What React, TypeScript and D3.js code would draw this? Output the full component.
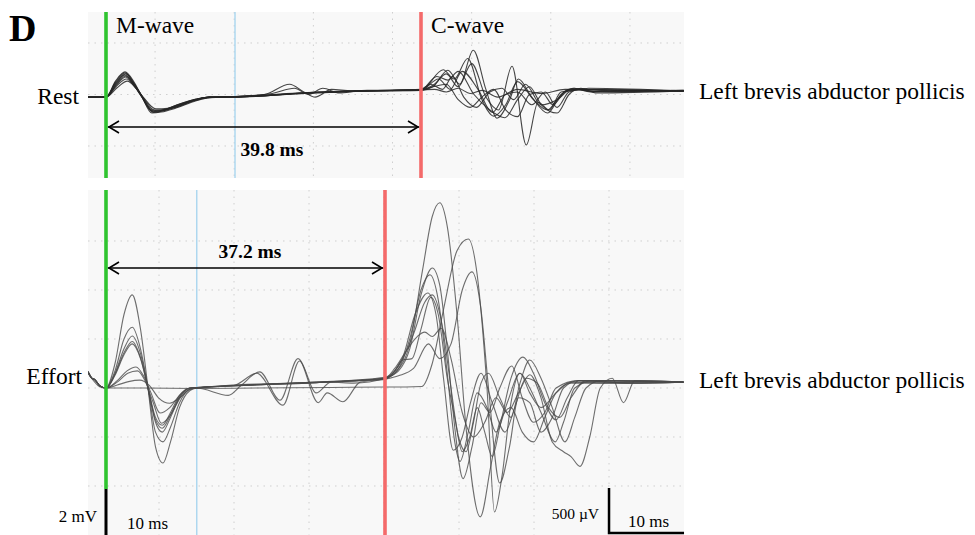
import React from "react";
import * as d3 from "d3";

type Knot = [number, number];

// ---- Data: time (ms from stimulus) and amplitude (grid divisions) ----
const restSweeps: Knot[][] = [
  [[-2.3,-0.05],[0,-0.05],[1.2,0.26],[2.4,0.44],[3.5,0.25],[4.4,0.0],[5.8,-0.32],[7,-0.31],[8.7,-0.25],[11.4,-0.1],[13.1,-0.05],[16.3,-0.04],[20,0.0],[23.2,0.2],[25,0.05],[26.4,-0.05],[28.5,0.1],[31,0.07],[36,0.08],[39.8,0.08],[41.3,0.15],[43.2,0.47],[44.7,0.2],[46.4,0.86],[48,0.1],[49.4,-0.46],[51,-0.1],[52.1,0.3],[53.8,-0.05],[55.8,-0.36],[57.5,0.0],[59.2,0.12],[61.2,0.05],[65,0.08],[73,0.07]],
  [[-2.3,-0.05],[0,-0.05],[1.2,0.24],[2.4,0.42],[3.5,0.22],[4.4,0.0],[5.8,-0.36],[7,-0.34],[8.7,-0.27],[11.4,-0.12],[13.1,-0.06],[16.3,-0.05],[22,0.01],[30,0.06],[39.8,0.09],[41.5,0.2],[43,0.4],[44.5,0.15],[46.2,0.6],[48,-0.05],[49.6,-0.3],[51.3,0.55],[53.1,-0.98],[54.6,-0.15],[56,-0.3],[57.5,0.05],[60,0.1],[64,0.07],[73,0.07]],
  [[-2.3,-0.05],[0,-0.05],[1.2,0.22],[2.5,0.4],[3.6,0.2],[4.5,-0.02],[6,-0.34],[7.2,-0.32],[8.7,-0.24],[11.4,-0.1],[13.1,-0.05],[16.3,-0.04],[21,0.02],[23.8,0.12],[25.6,0.0],[27.4,0.12],[29.5,0.03],[32,0.07],[39.8,0.08],[42.6,0.48],[44,0.3],[45.7,0.7],[47.5,-0.1],[49,-0.42],[50.5,-0.2],[52,0.25],[54,-0.1],[55.8,-0.3],[57,-0.1],[58.5,0.1],[62,0.06],[73,0.08]],
  [[-2.3,-0.05],[0,-0.05],[1.2,0.2],[2.4,0.38],[3.5,0.2],[4.4,-0.02],[5.8,-0.3],[7.2,-0.3],[8.7,-0.22],[11.4,-0.09],[13.1,-0.05],[16.3,-0.05],[25,0.03],[33,0.07],[39.8,0.09],[41.8,0.35],[43.2,0.28],[44.5,0.45],[46.5,0.0],[48.5,-0.3],[50.4,-0.45],[52,-0.1],[53.5,0.15],[55,-0.2],[57,-0.36],[58.5,0.0],[60,0.12],[62,0.03],[73,0.07]],
  [[-2.3,-0.05],[0,-0.05],[1.3,0.2],[2.5,0.36],[3.6,0.18],[4.5,-0.03],[6,-0.35],[7.5,-0.3],[9,-0.24],[11.4,-0.11],[13.1,-0.06],[16.3,-0.05],[25,0.02],[33,0.07],[39.8,0.09],[41.3,0.15],[43,0.2],[44.5,-0.1],[46,-0.25],[47.5,-0.05],[49,0.1],[50.5,-0.3],[52,-0.43],[53.5,0.0],[55,0.05],[56.5,-0.2],[58,0.05],[60,0.1],[73,0.06]],
  [[-2.3,-0.05],[0,-0.05],[1.3,0.18],[2.5,0.34],[3.6,0.16],[4.5,-0.04],[6.1,-0.33],[7.5,-0.29],[9,-0.22],[11.4,-0.1],[13.1,-0.05],[16.3,-0.04],[25,0.03],[33,0.08],[39.8,0.1],[41,0.2],[42.5,0.1],[43.8,0.35],[45.2,-0.05],[46.8,-0.25],[48.5,0.05],[50,0.12],[51.5,-0.1],[53,0.2],[55,-0.2],[57,-0.1],[59,0.12],[62,0.05],[73,0.08]],
  [[-2.3,-0.05],[0,-0.05],[1.3,0.16],[2.6,0.3],[3.7,0.14],[4.6,-0.04],[6.2,-0.31],[7.6,-0.28],[9,-0.2],[11.4,-0.09],[13.1,-0.05],[16.3,-0.05],[25,0.02],[33,0.07],[39.8,0.08],[42,0.3],[43.5,0.1],[45,0.45],[47,0.1],[48.8,-0.35],[50.5,0.0],[52,0.05],[53.8,-0.2],[55.5,0.05],[57,-0.25],[58.5,0.05],[61,0.12],[73,0.07]],
  [[-2.3,-0.05],[0,-0.05],[1.4,0.13],[2.7,0.26],[3.8,0.12],[4.7,-0.05],[6.3,-0.28],[7.8,-0.27],[9.2,-0.2],[11.4,-0.1],[13.1,-0.05],[16.3,-0.05],[25,0.03],[33,0.07],[39.8,0.09],[41.5,0.1],[43,0.05],[44.5,0.12],[46,0.02],[47.5,0.08],[49.5,-0.05],[52,0.1],[55,0.02],[58,0.1],[73,0.07]],
];

const effortSweeps: Knot[][] = [
  [[-2.4,0.33],[-1.9,0.2],[-1.5,0.17],[-0.8,0.04],[0,0],[1.2,0.5],[2.4,1.5],[3.5,1.9],[4.6,1.2],[5.6,0],[6.6,-1.2],[7.6,-1.53],[8.6,-1.1],[9.8,-0.4],[11.2,-0.05],[12.1,0],[16,0.05],[20,0.08],[25,0.1],[30,0.13],[34,0.16],[37.2,0.2],[38.8,0.35],[40.5,0.9],[42.2,2.4],[43.5,3.5],[44.5,3.78],[45.5,3.3],[46.8,1.5],[48,-0.8],[49.9,-2.63],[51.3,-1.6],[52.5,-0.7],[54,-0.4],[55.5,-0.9],[57,-1.1],[58.5,-0.6],[60,-0.1],[62,0.1],[66,0.1],[71,0.12],[77,0.12]],
  [[-2.4,0.33],[-1.9,0.2],[-1.5,0.17],[-0.8,0.04],[0,0],[1.2,0.35],[2.4,1.0],[3.5,1.24],[4.6,0.8],[5.6,0],[6.6,-0.9],[7.6,-1.1],[8.6,-0.8],[9.8,-0.3],[11.2,-0.02],[12.1,0],[16,0.04],[22,0.08],[30,0.13],[37.2,0.18],[38.5,0.35],[39.5,0.57],[40.8,0.6],[42,1.2],[43.3,1.85],[44.3,1.5],[45.5,0.2],[46.5,-0.6],[47.5,-1.3],[48.5,-1.0],[49.5,-0.4],[50.5,-0.9],[51.5,-1.4],[52.5,-0.8],[54,0.2],[55.6,0.63],[57,0.3],[58.5,-0.3],[60,-0.65],[61.5,-0.2],[63,0.15],[77,0.12]],
  [[-2.4,0.33],[-1.9,0.2],[-1.5,0.17],[-0.8,0.04],[0,0],[1.2,0.3],[2.4,0.8],[3.5,1.06],[4.6,0.7],[5.6,0],[6.6,-0.7],[7.5,-0.9],[8.6,-0.6],[9.8,-0.2],[11.2,0],[12.1,0],[16.3,-0.15],[18,0.05],[20.5,0.33],[23.2,-0.25],[25.6,0.6],[28.3,-0.3],[29.5,-0.1],[31.6,-0.28],[33.9,0.12],[37.2,0.18],[39,0.25],[41,0.4],[43,0.9],[44.5,0.6],[46,0.9],[47.5,2.0],[48.8,2.37],[50,1.6],[51,0.0],[52.5,-1.94],[53.8,-1.2],[55,-0.2],[56.5,-0.3],[58,-0.9],[59.5,-0.6],[61,0.0],[63,0.15],[70,0.1],[77,0.12]],
  [[-2.4,0.33],[-1.9,0.2],[-1.5,0.17],[-0.8,0.04],[0,0],[1.2,0.28],[2.4,0.72],[3.5,0.95],[4.6,0.62],[5.6,0],[6.6,-0.65],[7.5,-0.82],[8.6,-0.55],[9.8,-0.18],[11.2,0],[12.1,0.01],[17,0.05],[20.1,0.3],[23.6,-0.35],[25.8,0.55],[28,-0.1],[30,0.12],[33,0.1],[37.2,0.2],[39,0.35],[40.5,0.8],[42,1.9],[43.5,2.45],[44.5,2.1],[45.5,0.8],[46.5,-0.8],[47.6,-1.85],[48.8,-1.2],[50,-0.3],[51.2,-0.5],[52.5,0.0],[54.1,0.45],[55.5,-0.2],[57,-0.7],[58.5,-0.5],[60,0.0],[63,0.15],[70,0.1],[77,0.12]],
  [[-2.4,0.33],[-1.9,0.2],[-1.5,0.17],[-0.8,0.04],[0,0],[1.2,0.26],[2.4,0.68],[3.5,0.9],[4.6,0.6],[5.6,0],[6.6,-0.6],[7.5,-0.76],[8.6,-0.5],[9.8,-0.15],[11.2,0],[12.1,0.01],[20,0.07],[28,0.11],[37.2,0.2],[39,0.4],[40.5,1.0],[42,2.0],[43.2,2.31],[44.3,1.8],[45.5,0.3],[46.5,-1.1],[47.2,-1.5],[48.3,-0.9],[49.5,-0.1],[50.8,-0.4],[52,-0.9],[53.5,-0.3],[55.2,0.3],[56.5,0.0],[58,-0.5],[59.9,-1.1],[61,-0.7],[62.5,0.0],[65,0.15],[77,0.12]],
  [[-2.4,0.33],[-1.9,0.2],[-1.5,0.17],[-0.8,0.04],[0,0],[1.5,0.15],[2.8,0.35],[4,0.43],[5,0.25],[6,-0.1],[7.2,-0.51],[8.5,-0.4],[9.8,-0.15],[11.2,0],[12.1,0.01],[20,0.07],[28,0.12],[37.2,0.22],[39.5,0.6],[41.2,1.5],[42.9,1.94],[44,1.5],[45,0.2],[46.3,-1.27],[47.5,-1.0],[48.6,-0.3],[50,0.3],[51.5,-0.3],[53.2,-0.9],[54.5,-0.4],[56,0.2],[57.5,0.1],[59,-0.4],[60.5,-0.6],[62,-0.2],[64,0.15],[77,0.12]],
  [[-2.4,0.33],[-1.9,0.2],[-1.5,0.17],[-0.8,0.04],[0,0],[1.5,0.12],[2.9,0.3],[4.2,0.35],[5.2,0.15],[6.3,-0.3],[7.4,-0.72],[8.6,-0.55],[9.9,-0.2],[11.2,-0.02],[12.1,0],[20,0.06],[28,0.11],[37.2,0.2],[39,0.45],[41,1.1],[42.5,1.75],[43.5,1.9],[44.8,1.3],[46,0.0],[47,-1.0],[48,-1.3],[49,-0.7],[50,0.1],[51,0.3],[52.5,-0.2],[54,-0.6],[55.2,0.1],[56.5,0.57],[58,0.2],[59.5,-0.4],[61.2,-1.1],[62.5,-0.6],[64,0.0],[66,0.15],[77,0.12]],
  [[-2.4,0.33],[-1.9,0.2],[-1.5,0.17],[-0.8,0.04],[0,0],[1.5,0.06],[3,0.13],[4.5,0.16],[5.8,0.05],[7,-0.2],[8.5,-0.31],[9.8,-0.2],[11.2,-0.03],[12.1,0],[20,0.06],[28,0.11],[37.2,0.2],[38.5,0.4],[40,0.75],[41.5,1.05],[42.5,1.14],[43.5,1.05],[44.7,1.22],[46,0.6],[47.5,-0.5],[49,-1.0],[50.5,-0.7],[52,-0.2],[53.5,-0.5],[55,-0.1],[56.5,0.27],[58,-0.2],[59.5,-1.1],[61,-1.3],[62,-1.4],[63.2,-1.6],[64.5,-1.0],[65.9,0.0],[67.5,0.2],[69,-0.3],[70.5,0.15],[77,0.12]],
  [[-2.4,0.3],[-1.5,0.12],[-0.8,0.02],[0,0],[5,0],[12,-0.01],[20,0.0],[30,0.01],[37.2,0.02],[40,0.02],[42.1,0.03],[43.5,0.5],[45,1.6],[46.8,2.8],[48.3,3.04],[49.5,2.3],[50.8,0.0],[51.8,-2.53],[52.8,-1.8],[54,-0.3],[55.2,0.3],[56.5,-0.1],[58,-0.4],[60,-0.1],[62,0.12],[68,0.1],[77,0.12]],
];

const latencies = [39.8, 37.2]; // ms, M-wave onset to C-wave onset
const blueMarkers = [16.3, 12.1]; // ms
const restGridTimes = [6.2, 16.2, 26.2, 36.2, 46.2, 56.2, 66.2];
const effortGridTimes = [7.07, 17.07, 27.07, 37.07, 47.07, 57.07, 67.07];
const restGridLevels = [-1, 0, 1];
const effortGridLevels = [-2, -1, 0, 1, 2, 3];
const conditionLabels = ["Rest", "Effort"];
const muscleLabel = "Left brevis abductor pollicis";
const waveLabels = ["M-wave", "C-wave"];
const scaleLabels = ["2 mV", "10 ms", "500 µV", "10 ms"];
const scaleBarMs = [67.07, 77.07];

const FONT = "'Liberation Serif', 'Times New Roman', Times, serif";
const W = 975, H = 535;
const PX0 = 88, PX1 = 684;
const TOP = { y0: 12, y1: 178 };
const BOT = { y0: 190, y1: 535 };

const xRest = d3.scaleLinear().domain([0, latencies[0]]).range([106, 421]);
const xEff = d3.scaleLinear().domain([0, latencies[1]]).range([106, 385]);
const yRest = d3.scaleLinear().domain([-1, 1]).range([146, 43]);
const yEff = d3.scaleLinear().domain([-1, 1]).range([437, 339]);

const GREEN = "#2fc42f";
const RED = "#f46a6a";
const BLUE = "#a9d6ef";

function Arrow({ x1, x2, y }: { x1: number; x2: number; y: number }) {
  return (
    <g stroke="#000" strokeWidth={1.6} fill="none">
      <line x1={x1} x2={x2} y1={y} y2={y} />
      <path d={`M${x1 + 11},${y - 6} L${x1 + 1},${y} L${x1 + 11},${y + 6}`} />
      <path d={`M${x2 - 11},${y - 6} L${x2 - 1},${y} L${x2 - 11},${y + 6}`} />
    </g>
  );
}

export default function App() {
  const lineRest = d3
    .line<Knot>()
    .x((d) => xRest(d[0]))
    .y((d) => yRest(d[1]))
    .curve(d3.curveMonotoneX);
  const lineEff = d3
    .line<Knot>()
    .x((d) => xEff(d[0]))
    .y((d) => yEff(d[1]))
    .curve(d3.curveMonotoneX);

  return (
    <svg width={W} height={H} style={{ display: "block", position: "absolute", left: 0, top: 0 }} fontFamily={FONT}>
      <defs>
        <clipPath id="clipTop">
          <rect x={PX0} y={TOP.y0} width={PX1 - PX0} height={TOP.y1 - TOP.y0} />
        </clipPath>
        <clipPath id="clipBot">
          <rect x={PX0} y={BOT.y0} width={PX1 - PX0} height={BOT.y1 - BOT.y0} />
        </clipPath>
      </defs>
      <rect width={W} height={H} fill="#fff" />

      {/* Panel backgrounds */}
      <rect x={PX0} y={TOP.y0} width={PX1 - PX0} height={TOP.y1 - TOP.y0} fill="#f8f8f8" />
      <rect x={PX0} y={BOT.y0} width={PX1 - PX0} height={BOT.y1 - BOT.y0} fill="#f8f8f8" />

      {/* Grids */}
      <g stroke="#cfcfcf" strokeWidth={1} strokeDasharray="1.5,5">
        {restGridTimes.map((t) => (
          <line key={"rv" + t} x1={xRest(t)} x2={xRest(t)} y1={TOP.y0} y2={TOP.y1} />
        ))}
        {restGridLevels.map((v) => (
          <line key={"rh" + v} x1={PX0} x2={PX1} y1={yRest(v)} y2={yRest(v)} />
        ))}
        {effortGridTimes.map((t) => (
          <line key={"ev" + t} x1={xEff(t)} x2={xEff(t)} y1={BOT.y0} y2={BOT.y1} />
        ))}
        {effortGridLevels.map((v) => (
          <line key={"eh" + v} x1={PX0} x2={PX1} y1={yEff(v)} y2={yEff(v)} />
        ))}
      </g>

      {/* Blue markers */}
      <line x1={xRest(blueMarkers[0])} x2={xRest(blueMarkers[0])} y1={TOP.y0} y2={TOP.y1} stroke={BLUE} strokeWidth={1.4} />
      <line x1={xEff(blueMarkers[1])} x2={xEff(blueMarkers[1])} y1={BOT.y0} y2={BOT.y1} stroke={BLUE} strokeWidth={1.4} />

      {/* Traces */}
      <g clipPath="url(#clipTop)" fill="none" stroke="#262626" strokeWidth={1.1} strokeOpacity={0.85}>
        {restSweeps.map((s, i) => (
          <path key={i} d={lineRest(s) || ""} />
        ))}
      </g>
      <g clipPath="url(#clipBot)" fill="none" stroke="#4a4a4a" strokeWidth={1.1} strokeOpacity={0.8}>
        {effortSweeps.map((s, i) => (
          <path key={i} d={lineEff(s) || ""} />
        ))}
      </g>

      {/* Green / red markers */}
      <line x1={xRest(0)} x2={xRest(0)} y1={TOP.y0} y2={TOP.y1} stroke={GREEN} strokeWidth={3.6} />
      <line x1={xRest(latencies[0])} x2={xRest(latencies[0])} y1={TOP.y0} y2={TOP.y1} stroke={RED} strokeWidth={3.6} />
      <line x1={xEff(0)} x2={xEff(0)} y1={BOT.y0} y2={489} stroke={GREEN} strokeWidth={3.6} />
      <line x1={xEff(0)} x2={xEff(0)} y1={489} y2={BOT.y1} stroke="#000" strokeWidth={3} />
      <line x1={xEff(latencies[1])} x2={xEff(latencies[1])} y1={BOT.y0} y2={BOT.y1} stroke={RED} strokeWidth={3.6} />

      {/* Right scale bar */}
      <g stroke="#000" strokeWidth={2.5} fill="none">
        <path d={`M${xEff(scaleBarMs[0])},488 L${xEff(scaleBarMs[0])},533 L${xEff(scaleBarMs[1])},533`} />
      </g>

      {/* Arrows */}
      <Arrow x1={xRest(0) + 2} x2={xRest(latencies[0]) - 2} y={127} />
      <Arrow x1={xEff(0) + 2} x2={xEff(latencies[1]) - 2} y={268} />

      {/* Texts */}
      <text x={9} y={41} fontSize={38} fontWeight="bold">D</text>
      <text x={116} y={33} fontSize={23.5}>{waveLabels[0]}</text>
      <text x={431} y={33} fontSize={23.5}>{waveLabels[1]}</text>
      <text x={79} y={104} fontSize={23.5} textAnchor="end">{conditionLabels[0]}</text>
      <text x={82} y={384} fontSize={23.5} textAnchor="end">{conditionLabels[1]}</text>
      <text x={699} y={99} fontSize={23.5}>{muscleLabel}</text>
      <text x={699} y={388} fontSize={23.5}>{muscleLabel}</text>
      <text x={272} y={156} fontSize={19.5} fontWeight="bold" textAnchor="middle">{latencies[0].toFixed(1)} ms</text>
      <text x={250} y={258} fontSize={19.5} fontWeight="bold" textAnchor="middle">{latencies[1].toFixed(1)} ms</text>
      <text x={97} y={522} fontSize={17} textAnchor="end">{scaleLabels[0]}</text>
      <text x={127} y={529} fontSize={17}>{scaleLabels[1]}</text>
      <text x={599} y={519} fontSize={15.5} textAnchor="end">{scaleLabels[2]}</text>
      <text x={628} y={527} fontSize={17}>{scaleLabels[3]}</text>
    </svg>
  );
}
